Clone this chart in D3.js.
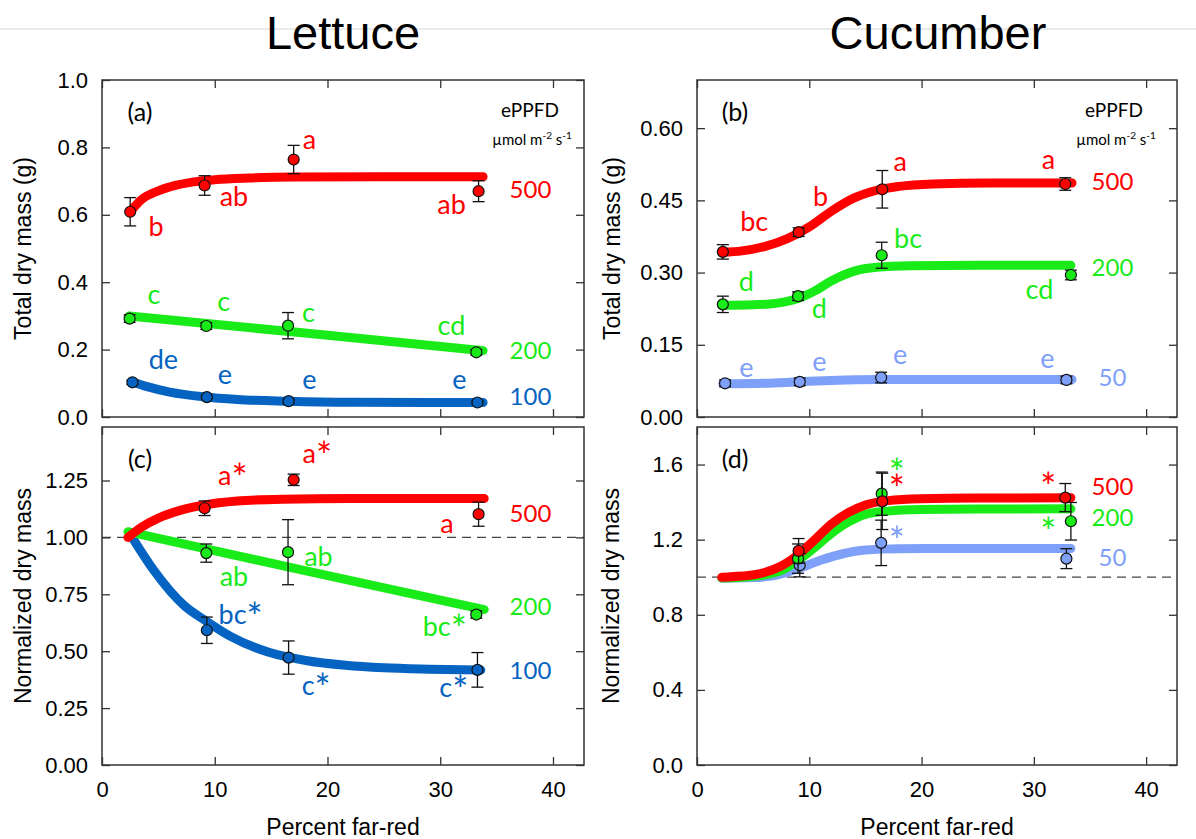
<!DOCTYPE html>
<html>
<head>
<meta charset="utf-8">
<script src="https://cdn.jsdelivr.net/npm/d3@7"></script>
<style>
  body { margin: 0; background: #fff; }
  svg { display: block; }
  .tick text { font-family: "Liberation Sans", Arial, sans-serif; font-size: 22px; fill: #000; }
  .tick line { stroke: #333; stroke-width: 1.3; }
</style>
</head>
<body>
<svg id="chart" width="1196" height="839"></svg>
<script>
// ---------- data ----------
const xTicks = [0, 10, 20, 30, 40];
const ppfdLettuce = ["500", "200", "100"];
const ppfdCucumber = ["500", "200", "50"];

// Lettuce: percent far-red of each treatment
const lettuceX500 = [2.5, 9.1, 17.0, 33.4];
const lettuceX200 = [2.45, 9.25, 16.5, 33.2];
const lettuceX100 = [2.7, 9.3, 16.55, 33.3];

// Lettuce: total dry mass (g) and standard error
const lettuceMass500 = [0.609, 0.687, 0.764, 0.670];
const lettuceMassSE500 = [0.042, 0.029, 0.042, 0.031];
const lettuceMass200 = [0.292, 0.270, 0.271, 0.192];
const lettuceMassSE200 = [0.011, 0.010, 0.039, 0.008];
const lettuceMass100 = [0.103, 0.059, 0.047, 0.043];
const lettuceMassSE100 = [0.006, 0.005, 0.005, 0.004];

// Lettuce: dry mass normalized to the lowest far-red treatment
const lettuceNorm500 = [1.128, 1.253, 1.102];
const lettuceNormSE500 = [0.032, 0.025, 0.053];
const lettuceNorm200 = [0.931, 0.935, 0.661];
const lettuceNormSE200 = [0.040, 0.143, 0.016];
const lettuceNorm100 = [0.592, 0.472, 0.418];
const lettuceNormSE100 = [0.058, 0.073, 0.076];

// Cucumber: percent far-red of each treatment
const cucumberX500 = [2.3, 9.05, 16.5, 32.8];
const cucumberX200 = [2.3, 9.0, 16.45, 33.3];
const cucumberX50 = [2.5, 9.15, 16.4, 32.9];

// Cucumber: total dry mass (g) and standard error
const cucumberMass500 = [0.343, 0.384, 0.473, 0.484];
const cucumberMassSE500 = [0.015, 0.009, 0.039, 0.013];
const cucumberMass200 = [0.234, 0.251, 0.336, 0.295];
const cucumberMassSE200 = [0.017, 0.009, 0.027, 0.010];
const cucumberMass50 = [0.070, 0.073, 0.082, 0.077];
const cucumberMassSE50 = [0.007, 0.008, 0.011, 0.008];

// Cucumber: normalized dry mass
const cucumberNorm500 = [1.140, 1.404, 1.424];
const cucumberNormSE500 = [0.066, 0.150, 0.075];
const cucumberNorm200 = [1.099, 1.445, 1.298];
const cucumberNormSE200 = [0.078, 0.115, 0.100];
const cucumberNorm50 = [1.064, 1.183, 1.099];
const cucumberNormSE50 = [0.062, 0.121, 0.053];

// Fitted response curves, [percent far-red, value]
const lettuceMassFit500 = [[2.5,0.609],[3.5,0.645],[5,0.671],[6.5,0.687],[8,0.697],[10,0.704],[13,0.709],[17,0.712],[25,0.713],[33.8,0.713]];
const lettuceMassFit200 = [[2.4,0.300],[18,0.249],[33.8,0.197]];
const lettuceMassFit100 = [[2.7,0.104],[4,0.090],[6,0.074],[9,0.060],[12,0.052],[16.5,0.047],[22,0.044],[33.8,0.043]];
const lettuceNormFit500 = [[2.3,1.0],[3.5,1.045],[5,1.085],[7,1.12],[9,1.142],[12,1.16],[16,1.168],[22,1.171],[33.9,1.171]];
const lettuceNormFit200 = [[2.3,1.025],[18,0.854],[33.9,0.683]];
const lettuceNormFit100 = [[2.55,1.01],[4.6,0.855],[7.3,0.70],[9.25,0.632],[11.4,0.565],[14.8,0.495],[18.2,0.458],[21.6,0.438],[25,0.427],[29,0.421],[33.6,0.417]];
const cucumberMassFit500 = [[2.3,0.342],[4,0.345],[6,0.354],[8,0.370],[10,0.395],[12,0.428],[14,0.455],[16,0.471],[18,0.479],[21,0.484],[26,0.486],[33.4,0.486]];
const cucumberMassFit200 = [[2.3,0.232],[5,0.233],[7,0.236],[9,0.246],[10.5,0.262],[12,0.283],[14,0.303],[16,0.311],[19,0.314],[25,0.315],[33.3,0.315]];
const cucumberMassFit50 = [[2.3,0.069],[6,0.070],[9,0.073],[12,0.076],[16,0.078],[22,0.078],[33.4,0.078]];
const cucumberNormFit500 = [[2.2,1.0],[4,1.006],[6,1.025],[7.5,1.06],[9,1.12],[10.5,1.2],[12,1.285],[13.5,1.345],[15,1.385],[17,1.408],[20,1.418],[25,1.422],[33.3,1.423]];
const cucumberNormFit200 = [[2.2,0.996],[4,1.0],[6,1.012],[7.5,1.036],[9,1.09],[10.5,1.16],[12,1.235],[13.5,1.295],[15,1.335],[17,1.352],[20,1.36],[25,1.363],[33.3,1.364]];
const cucumberNormFit50 = [[2.2,0.995],[5,0.998],[7,1.01],[9,1.045],[11,1.09],[13,1.125],[15,1.145],[18,1.152],[24,1.153],[33.3,1.153]];

// Mean-separation letters and significance marks: [text, series, x, y]
const lettuceMassLetters = [
  ["b", 0, 4.8, 0.565], ["ab", 0, 11.7, 0.654], ["a", 0, 18.4, 0.824], ["ab", 0, 31.0, 0.629],
  ["c", 1, 4.6, 0.362], ["c", 1, 10.8, 0.342], ["c", 1, 18.3, 0.310], ["cd", 1, 31.0, 0.271],
  ["de", 2, 5.45, 0.169], ["e", 2, 10.9, 0.125], ["e", 2, 18.4, 0.112], ["e", 2, 31.7, 0.112]
];
const cucumberMassLetters = [
  ["bc", 0, 5.1, 0.406], ["b", 0, 11.0, 0.458], ["a", 0, 18.1, 0.530], ["a", 0, 31.3, 0.534],
  ["d", 1, 4.4, 0.281], ["d", 1, 10.9, 0.226], ["bc", 1, 18.8, 0.371], ["cd", 1, 30.5, 0.264],
  ["e", 2, 4.4, 0.103], ["e", 2, 10.9, 0.115], ["e", 2, 18.1, 0.129], ["e", 2, 31.2, 0.122]
];
const lettuceNormLetters = [
  ["a*", 0, 11.6, 1.272], ["a*", 0, 19.1, 1.367], ["a", 0, 30.6, 1.060],
  ["ab", 1, 11.7, 0.826], ["ab", 1, 19.2, 0.914], ["bc*", 1, 30.4, 0.610],
  ["bc*", 2, 12.3, 0.662], ["c*", 2, 19.0, 0.351], ["c*", 2, 31.2, 0.341]
];
const cucumberNormLetters = [
  ["*", 2, 17.8, 1.236], ["*", 0, 31.3, 1.525], ["*", 1, 31.3, 1.286]
];
// significance marks stacked above one mean: [x, y of first mark, series top to bottom, y of each]
const cucumberNormStacked = [[17.8, [1, 0], [1.598, 1.516]]];

// ---------- drawing ----------
const colorsLettuce = ["#ff0000", "#19eb19", "#0563c1"];
const colorsCucumber = ["#ff0000", "#19eb19", "#7fa0f8"];
const labelFont = "Lato, 'Open Sans', sans-serif";
const xDomain = [0, 42.75];
const letterSize = 27;
const starSize = 38;

const svg = d3.select("#chart");

// thin separator behind the titles
svg.append("line").attr("x1", 0).attr("x2", 1196).attr("y1", 29).attr("y2", 29)
  .attr("stroke", "#d4d4d4").attr("stroke-width", 1);

svg.append("text").attr("x", 343).attr("y", 49).attr("text-anchor", "middle")
  .attr("font-family", "'Liberation Sans', Arial, sans-serif").attr("font-size", 47).text("Lettuce");
svg.append("text").attr("x", 938).attr("y", 49).attr("text-anchor", "middle")
  .attr("font-family", "'Liberation Sans', Arial, sans-serif").attr("font-size", 47).text("Cucumber");

function series(xs, ys, se, fit) {
  return { points: xs.map((x, i) => ({ x, y: ys[i], se: se[i] })), fit };
}

// writes a label whose trailing "*" is drawn larger and lowered, like a superscript-free mark
function fillLabel(sel, str) {
  const body = str.replace("*", "");
  const hasStar = str.includes("*");
  if (body.length) sel.append("tspan").text(body);
  if (hasStar) {
    sel.append("tspan").attr("font-size", starSize)
      .attr("dy", body.length ? 7 : 13).text("*");
  }
}

const panels = [
  {
    tag: "(a)", left: 102, right: 584, top: 80, bottom: 417, yMax: 1.0,
    yTicks: [0, 0.2, 0.4, 0.6, 0.8, 1.0], fmt: ".1f", xLabels: false, ref: false,
    colors: colorsLettuce, ppfd: ppfdLettuce, letters: lettuceMassLetters, stacked: [],
    ppfdY: [0.679, 0.199, 0.065], ppfdX: 38.0, eppfdX: 530, titleX: 31,
    yTitle: "Total dry mass (g)",
    series: [
      series(lettuceX500, lettuceMass500, lettuceMassSE500, lettuceMassFit500),
      series(lettuceX200, lettuceMass200, lettuceMassSE200, lettuceMassFit200),
      series(lettuceX100, lettuceMass100, lettuceMassSE100, lettuceMassFit100)
    ]
  },
  {
    tag: "(b)", left: 697, right: 1177, top: 80, bottom: 417, yMax: 0.70,
    yTicks: [0, 0.15, 0.30, 0.45, 0.60], fmt: ".2f", xLabels: false, ref: false,
    colors: colorsCucumber, ppfd: ppfdCucumber, letters: cucumberMassLetters, stacked: [],
    ppfdY: [0.492, 0.312, 0.084], ppfdX: 37.0, eppfdX: 1114, titleX: 620,
    yTitle: "Total dry mass (g)",
    series: [
      series(cucumberX500, cucumberMass500, cucumberMassSE500, cucumberMassFit500),
      series(cucumberX200, cucumberMass200, cucumberMassSE200, cucumberMassFit200),
      series(cucumberX50, cucumberMass50, cucumberMassSE50, cucumberMassFit50)
    ]
  },
  {
    tag: "(c)", left: 102, right: 584, top: 427, bottom: 765, yMax: 1.485,
    yTicks: [0, 0.25, 0.5, 0.75, 1.0, 1.25], fmt: ".2f", xLabels: true, ref: true,
    colors: colorsLettuce, ppfd: ppfdLettuce, letters: lettuceNormLetters, stacked: [],
    ppfdY: [1.111, 0.702, 0.420], ppfdX: 38.0, eppfdX: null, titleX: 31,
    yTitle: "Normalized dry mass",
    series: [
      series(lettuceX500.slice(1), lettuceNorm500, lettuceNormSE500, lettuceNormFit500),
      series(lettuceX200.slice(1), lettuceNorm200, lettuceNormSE200, lettuceNormFit200),
      series(lettuceX100.slice(1), lettuceNorm100, lettuceNormSE100, lettuceNormFit100)
    ]
  },
  {
    tag: "(d)", left: 697, right: 1177, top: 427, bottom: 765, yMax: 1.8,
    yTicks: [0, 0.4, 0.8, 1.2, 1.6], fmt: ".1f", xLabels: true, ref: true,
    colors: colorsCucumber, ppfd: ppfdCucumber, letters: cucumberNormLetters, stacked: cucumberNormStacked,
    ppfdY: [1.49, 1.326, 1.113], ppfdX: 37.0, eppfdX: null, titleX: 619,
    yTitle: "Normalized dry mass",
    series: [
      series(cucumberX500.slice(1), cucumberNorm500, cucumberNormSE500, cucumberNormFit500),
      series(cucumberX200.slice(1), cucumberNorm200, cucumberNormSE200, cucumberNormFit200),
      series(cucumberX50.slice(1), cucumberNorm50, cucumberNormSE50, cucumberNormFit50)
    ]
  }
];

panels.forEach(p => {
  const x = d3.scaleLinear().domain(xDomain).range([p.left, p.right]);
  const y = d3.scaleLinear().domain([0, p.yMax]).range([p.bottom, p.top]);
  const g = svg.append("g");

  if (p.ref) {
    g.append("line").attr("x1", p.left).attr("x2", p.right)
      .attr("y1", y(1)).attr("y2", y(1))
      .attr("stroke", "#444").attr("stroke-width", 1.3).attr("stroke-dasharray", "9,6");
  }

  const line = d3.line().x(d => x(d[0])).y(d => y(d[1])).curve(d3.curveMonotoneX);

  // fitted curves (drawn back to front so the first series sits on top)
  p.series.slice().reverse().forEach((s, ri) => {
    const i = p.series.length - 1 - ri;
    g.append("path").datum(s.fit).attr("d", line)
      .attr("fill", "none").attr("stroke", p.colors[i]).attr("stroke-width", 9)
      .attr("stroke-linecap", "round").attr("stroke-linejoin", "round");
  });

  // error bars and means
  p.series.slice().reverse().forEach((s, ri) => {
    const i = p.series.length - 1 - ri;
    const eb = g.append("g").attr("stroke", "#111").attr("stroke-width", 1.3);
    s.points.forEach(d => {
      const x0 = x(d.x), y1 = y(d.y + d.se), y2 = y(d.y - d.se);
      eb.append("line").attr("x1", x0).attr("x2", x0).attr("y1", y1).attr("y2", y2);
      eb.append("line").attr("x1", x0 - 6).attr("x2", x0 + 6).attr("y1", y1).attr("y2", y1);
      eb.append("line").attr("x1", x0 - 6).attr("x2", x0 + 6).attr("y1", y2).attr("y2", y2);
    });
    g.append("g").selectAll("circle").data(s.points).join("circle")
      .attr("cx", d => x(d.x)).attr("cy", d => y(d.y)).attr("r", 5.5)
      .attr("fill", p.colors[i]).attr("stroke", "#111").attr("stroke-width", 1.2);
  });

  // letters / significance marks (baseline placed so the label is centred on its anchor)
  g.append("g").selectAll("text").data(p.letters).join("text")
    .attr("x", d => x(d[2])).attr("y", d => y(d[3]) + letterSize * 0.35)
    .attr("text-anchor", "middle")
    .attr("font-family", labelFont).attr("font-size", letterSize)
    .attr("fill", d => p.colors[d[1]])
    .each(function (d) { fillLabel(d3.select(this), d[0]); });

  // stacked marks sharing one text element
  p.stacked.forEach(st => {
    const t = g.append("text").attr("x", x(st[0]))
      .attr("y", y(st[2][0]) + letterSize * 0.35 + 13)
      .attr("text-anchor", "middle").attr("font-family", labelFont).attr("font-size", starSize);
    st[1].forEach((si, k) => {
      t.append("tspan").attr("x", x(st[0]))
        .attr("dy", k === 0 ? 0 : y(st[2][k]) - y(st[2][k - 1]))
        .attr("fill", p.colors[si]).text("*");
    });
  });

  // PPFD level labels at the line ends
  g.append("g").selectAll("text").data(p.ppfd).join("text")
    .attr("x", x(p.ppfdX)).attr("y", (d, i) => y(p.ppfdY[i]))
    .attr("text-anchor", "middle").attr("dominant-baseline", "central")
    .attr("font-family", labelFont).attr("font-size", 24)
    .attr("fill", (d, i) => p.colors[i]).text(d => d);

  // panel tag
  g.append("text").attr("x", p.left + 38).attr("y", p.top + 31)
    .attr("text-anchor", "middle").attr("dominant-baseline", "central")
    .attr("font-family", labelFont).attr("font-size", 25).text(p.tag);

  if (p.eppfdX !== null) {
    g.append("text").attr("x", p.eppfdX).attr("y", p.top + 37).attr("text-anchor", "middle")
      .attr("font-family", labelFont).attr("font-size", 19).text("ePPFD");
    const u = g.append("text").attr("x", p.eppfdX + 2).attr("y", p.top + 65).attr("text-anchor", "middle")
      .attr("font-family", labelFont).attr("font-size", 15);
    u.append("tspan").text("µmol m");
    u.append("tspan").attr("dy", -6).attr("font-size", 10).text("-2");
    u.append("tspan").attr("dy", 6).text(" s");
    u.append("tspan").attr("dy", -6).attr("font-size", 10).text("-1");
  }

  // axes with inward ticks on all four sides
  const left = g.append("g").attr("transform", `translate(${p.left},0)`)
    .call(d3.axisLeft(y).tickValues(p.yTicks).tickFormat(d3.format(p.fmt))
      .tickSizeInner(-8).tickSizeOuter(0).tickPadding(14));
  const right = g.append("g").attr("transform", `translate(${p.right},0)`)
    .call(d3.axisRight(y).tickValues(p.yTicks).tickFormat("").tickSizeInner(-8).tickSizeOuter(0));
  const bottom = g.append("g").attr("transform", `translate(0,${p.bottom})`)
    .call(d3.axisBottom(x).tickValues(xTicks).tickFormat(p.xLabels ? d3.format("d") : "")
      .tickSizeInner(-8).tickSizeOuter(0).tickPadding(16));
  const top = g.append("g").attr("transform", `translate(0,${p.top})`)
    .call(d3.axisTop(x).tickValues(xTicks).tickFormat("").tickSizeInner(-8).tickSizeOuter(0));
  [left, right, bottom, top].forEach(a => a.select(".domain").remove());

  g.append("rect").attr("x", p.left).attr("y", p.top)
    .attr("width", p.right - p.left).attr("height", p.bottom - p.top)
    .attr("fill", "none").attr("stroke", "#333").attr("stroke-width", 1.5);

  // y-axis title
  g.append("text")
    .attr("transform", `translate(${p.titleX},${(p.top + p.bottom) / 2}) rotate(-90)`)
    .attr("text-anchor", "middle")
    .attr("font-family", "'Liberation Sans', Arial, sans-serif").attr("font-size", 23)
    .text(p.yTitle);

  if (p.xLabels) {
    g.append("text").attr("x", (p.left + p.right) / 2).attr("y", 835)
      .attr("text-anchor", "middle")
      .attr("font-family", "'Liberation Sans', Arial, sans-serif").attr("font-size", 23)
      .text("Percent far-red");
  }
});
</script>
</body>
</html>
